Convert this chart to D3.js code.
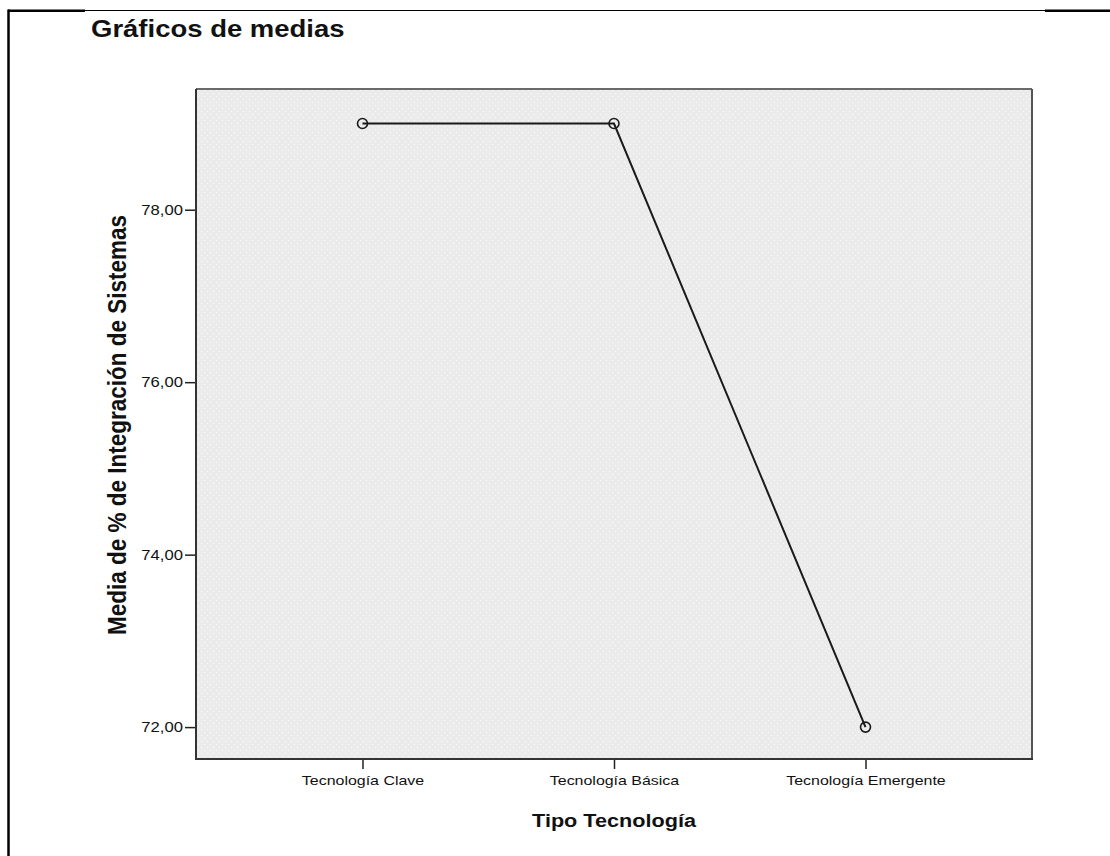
<!DOCTYPE html>
<html>
<head>
<meta charset="utf-8">
<script src="https://cdn.jsdelivr.net/npm/d3@7"></script>
<style>
  html, body { margin: 0; padding: 0; background: #ffffff; }
  svg { display: block; }
  text { font-family: "Liberation Sans", Arial, sans-serif; fill: #111; }
</style>
</head>
<body>
<script>
// ---- data ----
const categories = ["Tecnología Clave", "Tecnología Básica", "Tecnología Emergente"];
const means = [79.0, 79.0, 72.0];
const yTicks = [72, 74, 76, 78];
const chartTitle = "Gráficos de medias";
const xTitle = "Tipo Tecnología";
const yTitle = "Media de % de Integración de Sistemas";

// ---- layout ----
const W = 1110, H = 856;
const plot = { left: 196, right: 1032, top: 89, bottom: 759 };
const SX = 1.19; // horizontal text stretch of the source image

const svg = d3.select("body").append("svg").attr("width", W).attr("height", H);

// dotted background pattern
const defs = svg.append("defs");
const pat = defs.append("pattern").attr("id", "dots")
  .attr("width", 6).attr("height", 6).attr("patternUnits", "userSpaceOnUse");
pat.append("rect").attr("width", 6).attr("height", 6).attr("fill", "#ebebeb");
pat.append("rect").attr("x", 0).attr("y", 0).attr("width", 1).attr("height", 1).attr("fill", "#fbfbfb");
pat.append("rect").attr("x", 3).attr("y", 3).attr("width", 1).attr("height", 1).attr("fill", "#fbfbfb");

// outer frame lines
svg.append("line").attr("x1", 8.5).attr("x2", 8.5).attr("y1", 9.5).attr("y2", H)
  .attr("stroke", "#000").attr("stroke-width", 2.5);
svg.append("line").attr("x1", 8).attr("x2", 85).attr("y1", 10.8).attr("y2", 10.8)
  .attr("stroke", "#000").attr("stroke-width", 2.5);
svg.append("line").attr("x1", 85).attr("x2", 1045).attr("y1", 10.5).attr("y2", 10.5)
  .attr("stroke", "#000").attr("stroke-width", 1);
svg.append("line").attr("x1", 1045).attr("x2", W).attr("y1", 10.8).attr("y2", 10.8)
  .attr("stroke", "#000").attr("stroke-width", 2.5);

// title
svg.append("text")
  .attr("transform", `translate(91,36.5) scale(1.17,1)`)
  .attr("font-size", 23.5).attr("font-weight", "bold")
  .text(chartTitle);

// scales
const x = d3.scalePoint().domain(categories).range([plot.left, plot.right]).padding(0.662);
const y = d3.scaleLinear().domain([71.63, 79.40]).range([plot.bottom, plot.top]);

// plot background
svg.append("rect")
  .attr("x", plot.left).attr("y", plot.top)
  .attr("width", plot.right - plot.left).attr("height", plot.bottom - plot.top)
  .attr("fill", "url(#dots)");

// frame: top/right gray, left/bottom dark
svg.append("line").attr("x1", plot.left).attr("x2", plot.right).attr("y1", plot.top).attr("y2", plot.top)
  .attr("stroke", "#6a6a6a").attr("stroke-width", 2);
svg.append("line").attr("x1", plot.right).attr("x2", plot.right).attr("y1", plot.top).attr("y2", plot.bottom)
  .attr("stroke", "#555").attr("stroke-width", 2);

// y axis
const fmt = v => d3.format(".2f")(v).replace(".", ",");
const yAxis = d3.axisLeft(y).tickValues(yTicks).tickSize(11).tickPadding(2).tickFormat(fmt);
const gy = svg.append("g").attr("transform", `translate(${plot.left},0)`).call(yAxis);
gy.select(".domain").remove();
gy.selectAll(".tick line").attr("stroke", "#222").attr("stroke-width", 1.5);
gy.selectAll(".tick text").each(function() {
  const t = d3.select(this);
  const xx = +t.attr("x");
  t.attr("x", null).attr("transform", `translate(${xx},0) scale(${SX},1)`)
   .attr("font-size", 14).attr("fill", "#1a1a1a")
   .attr("font-family", "'Liberation Sans', Arial, sans-serif");
});
svg.append("line").attr("x1", plot.left).attr("x2", plot.left).attr("y1", plot.top).attr("y2", plot.bottom + 1)
  .attr("stroke", "#333").attr("stroke-width", 2);

// x axis
const xAxis = d3.axisBottom(x).tickSize(10).tickPadding(6);
const gx = svg.append("g").attr("transform", `translate(0,${plot.bottom})`).call(xAxis);
gx.select(".domain").remove();
gx.selectAll(".tick line").attr("stroke", "#222").attr("stroke-width", 1.5);
gx.selectAll(".tick text").each(function() {
  const t = d3.select(this);
  const yy = +t.attr("y");
  t.attr("y", null).attr("dy", "0.71em").attr("transform", `translate(0,${yy}) scale(${SX},1)`)
   .attr("font-size", 13.4).attr("fill", "#1a1a1a")
   .attr("font-family", "'Liberation Sans', Arial, sans-serif");
});
svg.append("line").attr("x1", plot.left - 1).attr("x2", plot.right + 1).attr("y1", plot.bottom).attr("y2", plot.bottom)
  .attr("stroke", "#333").attr("stroke-width", 2);

// axis titles
svg.append("text")
  .attr("transform", `translate(${(plot.left + plot.right) / 2},827) scale(1.17,1)`)
  .attr("text-anchor", "middle").attr("font-size", 18.5).attr("font-weight", "bold")
  .text(xTitle);
svg.append("text")
  .attr("transform", `translate(117.5,${(plot.top + plot.bottom) / 2 + 1}) rotate(-90) scale(1,1.12)`)
  .attr("text-anchor", "middle").attr("dy", "0.35em").attr("font-size", 22.5).attr("font-weight", "bold")
  .text(yTitle);

// line + markers
const pts = categories.map((c, i) => ({ c, v: means[i] }));
svg.append("path").datum(pts)
  .attr("fill", "none").attr("stroke", "#1a1a1a").attr("stroke-width", 2)
  .attr("d", d3.line().x(d => x(d.c)).y(d => y(d.v)));
svg.selectAll("circle.m").data(pts).join("circle").attr("class", "m")
  .attr("cx", d => x(d.c)).attr("cy", d => y(d.v)).attr("r", 5)
  .attr("fill", "none").attr("stroke", "#1a1a1a").attr("stroke-width", 1.6);
</script>
</body>
</html>
